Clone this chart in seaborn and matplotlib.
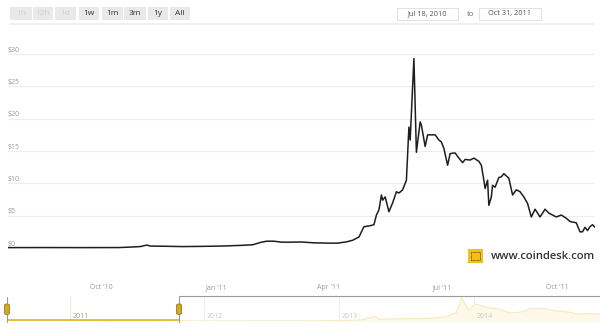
import matplotlib
matplotlib.use("Agg")
import matplotlib.pyplot as plt
import matplotlib.dates as mdates
from matplotlib.patches import FancyBboxPatch, Rectangle
import pandas as pd
import numpy as np
import seaborn as sns

# ---------------- data ----------------
price_dates = [
    "2010-07-18", "2010-08-15", "2010-09-15", "2010-10-15", "2010-10-25", "2010-11-01",
    "2010-11-06", "2010-11-09", "2010-11-20", "2010-12-05", "2010-12-20", "2011-01-05",
    "2011-01-20", "2011-01-30", "2011-02-05", "2011-02-10", "2011-02-16", "2011-02-22",
    "2011-03-01", "2011-03-10", "2011-03-20", "2011-04-01", "2011-04-08", "2011-04-15",
    "2011-04-20", "2011-04-25", "2011-04-29", "2011-05-03", "2011-05-07", "2011-05-09",
    "2011-05-11", "2011-05-13", "2011-05-14", "2011-05-16", "2011-05-19", "2011-05-22",
    "2011-05-25", "2011-05-27", "2011-05-30", "2011-06-01", "2011-06-02", "2011-06-04",
    "2011-06-05", "2011-06-08", "2011-06-10", "2011-06-13", "2011-06-14", "2011-06-17",
    "2011-06-19", "2011-06-25", "2011-06-28", "2011-06-30", "2011-07-02", "2011-07-05",
    "2011-07-07", "2011-07-11", "2011-07-14", "2011-07-17", "2011-07-19", "2011-07-23",
    "2011-07-26", "2011-07-30", "2011-08-01", "2011-08-03", "2011-08-04", "2011-08-06",
    "2011-08-07", "2011-08-09", "2011-08-10", "2011-08-12", "2011-08-15", "2011-08-17",
    "2011-08-19", "2011-08-23", "2011-08-26", "2011-08-29", "2011-09-01", "2011-09-04",
    "2011-09-07", "2011-09-10", "2011-09-13", "2011-09-17", "2011-09-21", "2011-09-24",
    "2011-09-30", "2011-10-04", "2011-10-08", "2011-10-11", "2011-10-16", "2011-10-19",
    "2011-10-21", "2011-10-23", "2011-10-25", "2011-10-27", "2011-10-29", "2011-10-31",
]
price_usd = [
    0.06, 0.07, 0.06, 0.07, 0.15, 0.22,
    0.45, 0.30, 0.27, 0.22, 0.25, 0.30,
    0.40, 0.50, 0.85, 1.05, 1.05, 0.90,
    0.90, 0.93, 0.80, 0.75, 0.75, 0.95,
    1.2, 1.7, 3.3, 3.4, 3.6, 5.1,
    5.9, 8.2, 7.4, 7.9, 5.6, 7.0,
    8.7, 8.5, 9.0, 10.0, 10.5, 18.7,
    16.7, 29.3, 14.8, 19.5, 19.0, 15.7,
    17.5, 17.5, 16.7, 16.4, 15.4, 12.8,
    14.6, 14.7, 13.9, 13.2, 13.7, 13.6,
    13.9, 13.4, 12.8, 10.5, 9.2, 10.5,
    6.6, 7.9, 9.7, 9.4, 10.9, 11.0,
    11.5, 10.8, 8.2, 9.0, 8.7, 7.9,
    6.9, 4.8, 6.0, 4.8, 6.0, 5.4,
    4.8, 5.1, 4.6, 4.1, 3.9, 2.5,
    2.5, 3.2, 2.7, 3.3, 3.6, 3.2,
]

nav_dates = [
    "2010-07-18", "2011-01-01", "2011-06-08", "2011-12-01", "2012-06-01", "2012-12-01",
    "2013-03-01", "2013-04-10", "2013-04-17", "2013-06-01", "2013-09-01", "2013-10-15",
    "2013-11-15", "2013-11-30", "2013-12-18", "2014-01-05", "2014-02-15", "2014-03-10",
    "2014-04-10", "2014-05-10", "2014-06-05", "2014-07-10", "2014-08-15", "2014-09-15",
    "2014-10-10", "2014-11-10", "2014-12-10",
]
nav_usd = [
    0.06, 0.3, 29, 3, 6, 13,
    50, 230, 80, 110, 130, 200,
    420, 1150, 550, 850, 650, 600,
    400, 450, 620, 620, 500, 450,
    340, 370, 340,
]

y_ticks = [0, 5, 10, 15, 20, 25, 30]
y_tick_labels = ["$0", "$5", "$10", "$15", "$20", "$25", "$30"]
x_tick_dates = ["2010-10-01", "2011-01-01", "2011-04-01", "2011-07-01", "2011-10-01"]
x_tick_labels = ["Oct '10", "Jan '11", "Apr '11", "Jul '11", "Oct '11"]
nav_year_dates = ["2011-01-01", "2012-01-01", "2013-01-01", "2014-01-01"]
nav_year_labels = ["2011", "2012", "2013", "2014"]
buttons = ["1h", "12h", "1d", "1w", "1m", "3m", "1y", "All"]
buttons_enabled = [False, False, False, True, True, True, True, True]
range_from = "Jul 18, 2010"
range_to = "Oct 31, 2011"
watermark = "www.coindesk.com"

# ---------------- figure ----------------
sns.set_style("white")
plt.rcParams["font.family"] = ["Open Sans", "DejaVu Sans"]

W, H = 600, 333
fig = plt.figure(figsize=(6.0, 3.33), dpi=100)
fig.patch.set_facecolor("white")

def fx(px):
    return px / W

def fy(py):
    return 1 - py / H

# main axes: x 8..595 px, $0 at y=248, $30 at y=54
x_left, x_right = 8, 595
y0_px, y30_px = 248, 54
ppu = (y0_px - y30_px) / 30.0
ymin, ymax = -0.35, 31.4
ax_bottom_px = y0_px + (0 - ymin) * ppu
ax_top_px = y0_px - ymax * ppu
ax = fig.add_axes([fx(x_left), fy(ax_bottom_px), fx(x_right - x_left),
                   (ax_bottom_px - ax_top_px) / H])

df = pd.DataFrame({"date": pd.to_datetime(price_dates), "price": price_usd})
sns.lineplot(data=df, x="date", y="price", ax=ax, color="#1e1e1e", linewidth=1.1)

x0 = pd.Timestamp("2010-07-18")
x1 = pd.Timestamp("2011-10-31")
ax.set_xlim(x0, x1)
ax.set_ylim(ymin, ymax)
ax.set_xlabel("")
ax.set_ylabel("")
for s in ax.spines.values():
    s.set_visible(False)
ax.set_xticks([])
ax.set_yticks([])
for v in y_ticks[1:]:
    ax.axhline(v, color="#ececec", linewidth=0.8, zorder=0)
for v, lab in zip(y_ticks, y_tick_labels):
    ax.text(0.0, v + 0.05, lab, transform=ax.get_yaxis_transform(), ha="left", va="bottom",
            fontsize=5, color="#999999")

# watermark
fig.patches.append(Rectangle((fx(468), fy(263)), fx(15), 14 / H, transform=fig.transFigure,
                             facecolor="#f2c21b", edgecolor="none"))
fig.patches.append(Rectangle((fx(471), fy(260)), fx(9), 8 / H, transform=fig.transFigure,
                             facecolor="none", edgecolor="#5a4a10", linewidth=0.6,
                             linestyle=(0, (1, 0.6))))
fig.text(fx(491), fy(256.5), watermark, ha="left", va="center", fontsize=8.1,
         color="#333333", fontweight="semibold")

# x-axis labels (between chart and navigator)
for d, lab in zip(x_tick_dates, x_tick_labels):
    xd = mdates.date2num(pd.Timestamp(d))
    xpix = x_left + (xd - mdates.date2num(x0)) / (mdates.date2num(x1) - mdates.date2num(x0)) * (x_right - x_left)
    fig.text(fx(xpix), fy(287.5), lab, ha="center", va="center", fontsize=5, color="#999999")

# ---------------- navigator ----------------
nav_left, nav_right = 8, 600
nav_top, nav_bot = 296, 321
nax = fig.add_axes([fx(nav_left), fy(nav_bot), fx(nav_right - nav_left), (nav_bot - nav_top) / H])
ndf = pd.DataFrame({"date": pd.to_datetime(nav_dates), "price": nav_usd})
sns.lineplot(data=ndf, x="date", y="price", ax=nax, color="#f0d58a", linewidth=0.8)
nax.fill_between(ndf["date"], ndf["price"], 0, color="#fdf4d6", linewidth=0)
n0 = pd.Timestamp("2010-07-18")
n1 = pd.Timestamp("2014-12-10")
nax.set_xlim(n0, n1)
nax.set_ylim(0, 1250)
nax.set_xlabel("")
nax.set_ylabel("")
nax.set_xticks([])
nax.set_yticks([])
for s in nax.spines.values():
    s.set_visible(False)
for d, lab in zip(nav_year_dates, nav_year_labels):
    t = pd.Timestamp(d)
    nax.axvline(t, color="#e6e6e6", linewidth=0.7, zorder=0)
    nax.text(t + pd.Timedelta(days=8), 0.16, lab, transform=nax.get_xaxis_transform(),
             ha="left", va="center", fontsize=5, color="#999999")

# selection: Jul 18 2010 .. Oct 31 2011
sel_px = 179
line_y = 320
fig.patches.append(Rectangle((fx(sel_px), fy(nav_bot)), fx(nav_right - sel_px), (nav_bot - nav_top) / H,
                             transform=fig.transFigure, facecolor="white", alpha=0.45,
                             edgecolor="none", zorder=3))
fig.lines.append(plt.Line2D([fx(nav_left), fx(sel_px)], [fy(line_y), fy(line_y)],
                            transform=fig.transFigure, color="#e3bb2e", linewidth=1.3, zorder=4))
fig.lines.append(plt.Line2D([fx(sel_px), fx(600)], [fy(nav_top), fy(nav_top)],
                            transform=fig.transFigure, color="#9a9a9a", linewidth=0.8, zorder=4))
for hx in (nav_left - 1, sel_px):
    fig.lines.append(plt.Line2D([fx(hx), fx(hx)], [fy(nav_top + 1 if hx == sel_px else 297), fy(322)],
                                transform=fig.transFigure, color="#9a9a9a", linewidth=0.8, zorder=4))
    fig.patches.append(FancyBboxPatch((fx(hx - 2.5), fy(314.5)), fx(5), 10.5 / H,
                                      boxstyle="round,pad=0,rounding_size=0.004",
                                      transform=fig.transFigure, facecolor="#cfa92a",
                                      edgecolor="#9b7d17", linewidth=0.6, zorder=5))

# ---------------- range selector ----------------
btn_x = [10, 33, 55, 79, 102, 124, 148, 170]
btn_w = [22, 20, 21, 20, 21, 22, 20, 20]
for bx, bw, lab, en in zip(btn_x, btn_w, buttons, buttons_enabled):
    fig.patches.append(Rectangle((fx(bx), fy(19.5)), fx(bw), 12.5 / H, transform=fig.transFigure,
                                 facecolor="#e9e9e9", edgecolor="none"))
    fig.text(fx(bx + bw / 2), fy(13.3), lab, ha="center", va="center", fontsize=6,
             color="#333333" if en else "#cfcfcf")

fig.lines.append(plt.Line2D([fx(10), fx(594)], [fy(23.5), fy(23.5)], transform=fig.transFigure,
                            color="#eeeeee", linewidth=1.2))
for bx, bw, lab in [(397, 61, range_from), (479, 62, range_to)]:
    fig.patches.append(Rectangle((fx(bx), fy(19.5)), fx(bw), 11.5 / H, transform=fig.transFigure,
                                 facecolor="white", edgecolor="#dddddd", linewidth=0.6))
    fig.text(fx(bx + bw / 2), fy(13.8), lab, ha="center", va="center", fontsize=5.3, color="#555555")
fig.text(fx(470), fy(14), "to", ha="center", va="center", fontsize=5.5, color="#666666")

fig.savefig("out.png", dpi=100, facecolor="white")
